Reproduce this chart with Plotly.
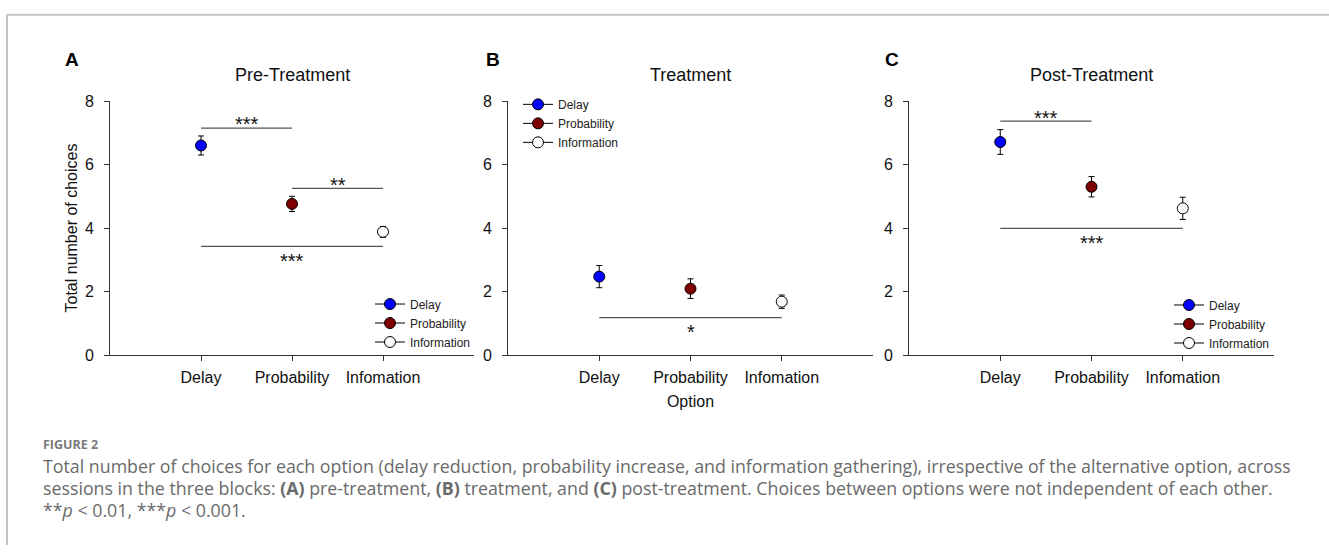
import plotly.graph_objects as go

# ---------------- data ----------------
options = ["Delay", "Probability", "Information"]
xtick_labels = ["Delay", "Probability", "Infomation"]
panel_letters = ["A", "B", "C"]
panel_titles = ["Pre-Treatment", "Treatment", "Post-Treatment"]

pre_means = [6.60, 4.76, 3.88]
pre_sem = [0.30, 0.24, 0.17]
trt_means = [2.47, 2.09, 1.68]
trt_sem = [0.35, 0.31, 0.21]
post_means = [6.71, 5.30, 4.62]
post_sem = [0.39, 0.32, 0.35]

# significance brackets per panel: (from option, to option, line height, label, label height)
pre_sig = [("Delay", "Probability", 7.15, "***", 7.42),
           ("Probability", "Information", 5.25, "**", 5.50),
           ("Delay", "Information", 3.42, "***", 3.11)]
trt_sig = [("Delay", "Information", 1.18, "*", 0.88)]
post_sig = [("Delay", "Probability", 7.37, "***", 7.63),
            ("Delay", "Information", 3.99, "***", 3.70)]

y_ticks = [0, 2, 4, 6, 8]
y_label = "Total number of choices"
x_label = "Option"

caption_head = "FIGURE 2"
caption_lines = [
    "Total number of choices for each option (delay reduction, probability increase, and information gathering), irrespective of the alternative option, across",
    "sessions in the three blocks: <b>(A)</b> pre-treatment, <b>(B)</b> treatment, and <b>(C)</b> post-treatment. Choices between options were not independent of each other.",
    "**<i>p</i> < 0.01, ***<i>p</i> < 0.001.",
]

# ---------------- geometry (page px -> paper) ----------------
W, H = 1329, 554


def fx(px):
    return px / W


def fy(py):
    return 1 - py / H


FONT = "Liberation Sans, Arial, sans-serif"
CAP_FONT = "Open Sans, Noto Sans, sans-serif"
marker_fill = {"Delay": "#0000ff", "Probability": "#7f0000", "Information": "#ffffff"}

x_domains = [(fx(110), fx(474)), (fx(508), fx(873)), (fx(909), fx(1274))]
y_domain = (fy(358), fy(96))

panels = [
    (pre_means, pre_sem, pre_sig),
    (trt_means, trt_sem, trt_sig),
    (post_means, post_sem, post_sig),
]
legend_names = ["legend", "legend2", "legend3"]

fig = go.Figure()

for p, (means, sems, sigs) in enumerate(panels):
    xa = "x" if p == 0 else f"x{p + 1}"
    ya = "y" if p == 0 else f"y{p + 1}"
    # significance lines
    for (a, b, yl, lab, ylab) in sigs:
        fig.add_trace(go.Scatter(
            x=[a, b], y=[yl, yl], mode="lines",
            line=dict(color="#555555", width=1.2),
            xaxis=xa, yaxis=ya, showlegend=False, hoverinfo="skip"))
        mid = (options.index(a) + options.index(b)) / 2
        fig.add_annotation(
            x=mid, y=ylab, xref=xa, yref=ya, text=lab, showarrow=False,
            font=dict(family=FONT, size=20, color="#111111"),
            xanchor="center", yanchor="middle", yshift=-5)
    # points
    for i, opt in enumerate(options):
        fig.add_trace(go.Scatter(
            x=[opt], y=[means[i]], mode="lines+markers", name=opt,
            marker=dict(size=11, color=marker_fill[opt],
                        line=dict(color="#000000", width=1)),
            line=dict(color="#000000", width=1),
            error_y=dict(type="data", array=[sems[i]], color="#000000",
                         thickness=1, width=3),
            xaxis=xa, yaxis=ya, legend=legend_names[p]))

axis_common = dict(showgrid=False, zeroline=False, showline=True,
                   linecolor="#333333", linewidth=1, ticks="outside",
                   ticklen=5, tickcolor="#333333", tickwidth=1,
                   tickfont=dict(family=FONT, size=16, color="#111111"))

layout = dict(
    width=W, height=H,
    margin=dict(l=0, r=0, t=0, b=0),
    paper_bgcolor="white", plot_bgcolor="white",
    font=dict(family=FONT, color="#111111"),
)
for p in range(3):
    sx = "" if p == 0 else str(p + 1)
    xa = dict(axis_common, domain=list(x_domains[p]), anchor=f"y{sx}",
              type="category", categoryorder="array", categoryarray=options,
              range=[-1, 3], tickvals=options, ticktext=xtick_labels,
              ticklabelstandoff=3)
    ya = dict(axis_common, domain=list(y_domain), anchor=f"x{sx}",
              range=[0, 8], tickvals=y_ticks, ticklabelstandoff=7)
    if p == 0:
        ya["title"] = dict(text=y_label, font=dict(family=FONT, size=16, color="#111111"),
                           standoff=3)
    if p == 1:
        xa["title"] = dict(text=x_label, font=dict(family=FONT, size=16, color="#111111"),
                           standoff=10)
    layout[f"xaxis{sx}"] = xa
    layout[f"yaxis{sx}"] = ya

leg_common = dict(font=dict(family=FONT, size=12, color="#222222"),
                  bgcolor="rgba(0,0,0,0)", borderwidth=0, itemwidth=30,
                  tracegroupgap=0, xanchor="left", yanchor="middle")
layout["legend"] = dict(leg_common, x=fx(370), y=fy(325))
layout["legend2"] = dict(leg_common, x=fx(518), y=fy(119))
layout["legend3"] = dict(leg_common, x=fx(1169), y=fy(326))

fig.update_layout(**layout)

# panel titles and letters
for p in range(3):
    cx = (x_domains[p][0] + x_domains[p][1]) / 2
    fig.add_annotation(x=cx, y=fy(69), xref="paper", yref="paper",
                       text=panel_titles[p], showarrow=False,
                       font=dict(family=FONT, size=18, color="#111111"),
                       xanchor="center", yanchor="middle")
letter_x = [72, 493, 892]
for p in range(3):
    fig.add_annotation(x=fx(letter_x[p]), y=fy(53), xref="paper", yref="paper",
                       text=f"<b>{panel_letters[p]}</b>", showarrow=False,
                       font=dict(family=FONT, size=19, color="#000000"),
                       xanchor="center", yanchor="middle")

# caption
fig.add_annotation(x=fx(41), y=fy(450), xref="paper", yref="paper",
                   text=f"<b>{caption_head}</b>", showarrow=False,
                   font=dict(family=CAP_FONT, size=12.5, color="#7a7a7a"),
                   xanchor="left", yanchor="middle")
cap_y = [472, 495, 518]
for t, yy in zip(caption_lines, cap_y):
    fig.add_annotation(x=fx(41), y=fy(yy), xref="paper", yref="paper",
                       text=t, showarrow=False,
                       font=dict(family=CAP_FONT, size=17.8, color="#6a6a6a"),
                       xanchor="left", yanchor="middle")

# frame border (top and left)
fig.add_shape(type="line", xref="paper", yref="paper",
              x0=fx(7), x1=fx(7), y0=0, y1=fy(7),
              line=dict(color="#c4c4c4", width=2))
fig.add_shape(type="line", xref="paper", yref="paper",
              x0=fx(7), x1=1, y0=fy(7), y1=fy(7),
              line=dict(color="#c4c4c4", width=2))

page_css = ("document.body.style.margin='0';"
            "document.body.style.overflow='hidden';"
            "document.documentElement.style.overflow='hidden';")
fig.write_html("out.html", post_script=page_css,
               config={"displayModeBar": False, "staticPlot": True})
